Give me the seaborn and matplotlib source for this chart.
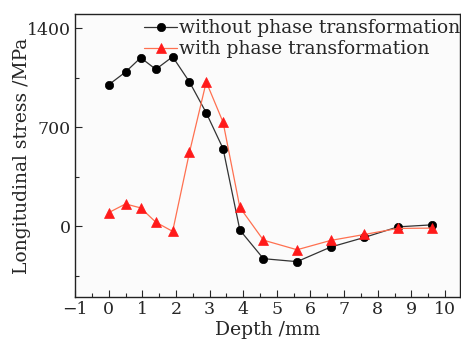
import matplotlib
matplotlib.use("Agg")
import matplotlib.pyplot as plt
import seaborn as sns
import pandas as pd
from matplotlib.ticker import MultipleLocator

sns.set_style("ticks")
plt.rcParams['font.family'] = ['DejaVu Serif']

depth = [0, 0.5, 0.95, 1.4, 1.9, 2.4, 2.9, 3.4, 3.9, 4.6, 5.6, 6.6, 7.6, 8.6, 9.6]
without_pt = [1000, 1090, 1191, 1109, 1198, 1020, 801, 548, -28, -230, -251, -148, -80, -5, 9]
with_pt = [96, 157, 129, 28, -37, 521, 1020, 735, 132, -99, -167, -101, -59, -16, -14]
labels = ["without phase transformation", "with phase transformation"]

df1 = pd.DataFrame({"depth": depth, "stress": without_pt})
df2 = pd.DataFrame({"depth": depth, "stress": with_pt})

fig = plt.figure(figsize=(4.61, 3.42), dpi=100)
ax = fig.add_axes([0.163, 0.132, 0.835, 0.827])
ax.set_facecolor('#fbfbfb')

sns.lineplot(data=df1, x="depth", y="stress", ax=ax, color='#333333', lw=0.9,
             marker='o', markersize=6, markerfacecolor='black', markeredgecolor='black',
             markeredgewidth=0.5, label=labels[0], sort=False)
sns.lineplot(data=df2, x="depth", y="stress", ax=ax, color='#ff7050', lw=0.9,
             marker='^', markersize=6.5, markerfacecolor='#ff1a1a', markeredgecolor='#ff1a1a',
             markeredgewidth=0.5, label=labels[1], sort=False)

ax.set_xlim(-1, 10.45)
ax.set_ylim(-500, 1500)
ax.xaxis.set_minor_locator(MultipleLocator(0.5))
ax.yaxis.set_major_locator(MultipleLocator(700))
ax.yaxis.set_minor_locator(MultipleLocator(350))
ax.tick_params(which='both', direction='in', top=False, right=False, labelsize=12.5)
ax.tick_params(which='major', length=5, width=0.8, pad=3)
ax.tick_params(which='minor', length=3, width=0.8)
ax.set_xticks(range(-1, 11))
ax.set_xticklabels(['\u22121'] + [str(i) for i in range(0, 11)])
for s in ax.spines.values():
    s.set_linewidth(1.0)
    s.set_color('#222222')

ax.set_xlabel("Depth /mm", fontsize=13.5, labelpad=2)
ax.set_ylabel("Longitudinal stress /MPa", fontsize=13.5, labelpad=-3)

leg = ax.legend(loc='upper right', bbox_to_anchor=(1.005, 0.988), frameon=False,
                fontsize=13.5, handlelength=1.75, handletextpad=0.1, borderaxespad=0.0,
                labelspacing=0.15, borderpad=0.1)

fig.savefig("out.png", dpi=100)
